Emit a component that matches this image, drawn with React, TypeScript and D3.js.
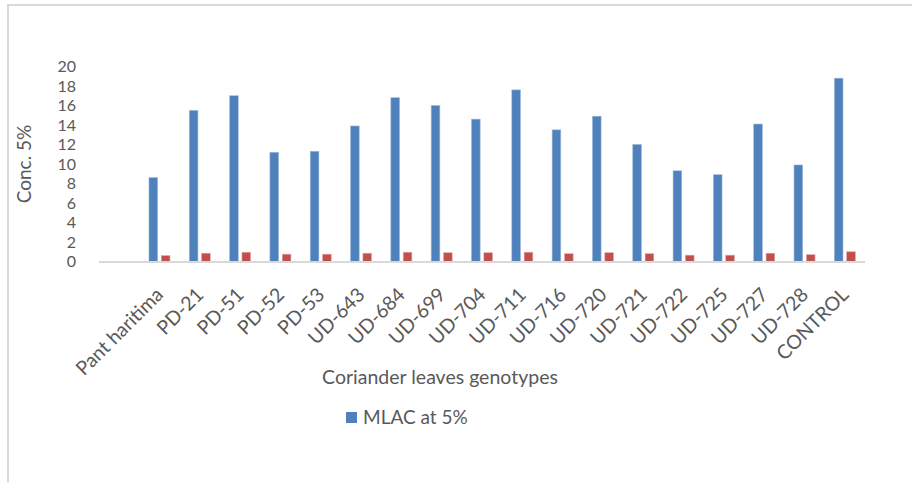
import React from 'react'
import * as d3 from 'd3'

// genotypes (the first slot of the axis is left empty in the original)
const categories = ['Pant haritima', 'PD-21', 'PD-51', 'PD-52', 'PD-53', 'UD-643', 'UD-684', 'UD-699', 'UD-704',
  'UD-711', 'UD-716', 'UD-720', 'UD-721', 'UD-722', 'UD-725', 'UD-727', 'UD-728', 'CONTROL']
const mlac5 = [8.6, 15.5, 17.0, 11.2, 11.3, 13.9, 16.8, 16.0, 14.6, 17.6, 13.5, 14.9, 12.0, 9.3, 8.9, 14.1, 9.9, 18.8]
const second = [0.6, 0.85, 0.95, 0.75, 0.75, 0.85, 0.95, 0.9, 0.9, 0.95, 0.8, 0.9, 0.8, 0.65, 0.65, 0.85, 0.7, 1.0]
const seriesNames = ['MLAC at 5%', '']
const yTicks = [0, 2, 4, 6, 8, 10, 12, 14, 16, 18, 20]

const W = 912, H = 482
const FONT = 'Lato, "Open Sans", sans-serif'
const TXT = '#595959'
const colors = ['#4f81bd', '#c0504d']

export default function App() {
  const x = d3.scaleBand<string>().domain(['', ...categories]).range([99, 865]).padding(0)
  const inner = d3.scaleBand<string>().domain(['a', 'b']).range([-10.5, 10.5]).paddingInner(0.3)
  const y = d3.scaleLinear().domain([0, 20]).range([261.5, 66.5])
  const series = [mlac5, second]

  return (
    <svg width={W} height={H} style={{ position: 'absolute', left: 0, top: 0 }} fontFamily={FONT}>
      <rect x={0} y={0} width={W} height={H} fill="#fff" />
      <rect x={8} y={5} width={1200} height={1000} fill="none" stroke="#d9d9d9" strokeWidth={2} />

      {/* y tick labels */}
      {yTicks.map(t => (
        <text key={t} x={76} y={y(t)} dy="0.36em" textAnchor="end" fontSize={16} fill={TXT}>{t}</text>
      ))}
      <text transform={`translate(31,164) rotate(-90)`} textAnchor="middle" fontSize={19} fill={TXT}>Conc. 5%</text>

      {/* bars */}
      {series.map((vals, s) => (
        <g key={s}>
          {categories.map((c, i) => {
            const cx = (x(c) as number) + x.bandwidth() / 2
            const bx = cx + (inner(s === 0 ? 'a' : 'b') as number)
            return (
              <rect key={c} x={bx} y={y(vals[i])} width={inner.bandwidth()} height={y(0) - y(vals[i])}
                fill={colors[s]} stroke={s === 0 ? '#9cb8da' : '#e0a6a4'} strokeWidth={0.6} />
            )
          })}
        </g>
      ))}

      {/* x axis line */}
      <line x1={99} x2={865} y1={262} y2={262} stroke="#d9d9d9" strokeWidth={1.8} />

      {/* category labels */}
      {categories.map(c => {
        const cx = (x(c) as number) + x.bandwidth() / 2
        return (
          <text key={c} transform={`translate(${cx + 5},${296}) rotate(-45)`} textAnchor="end" fontSize={19.5} fill={TXT}>{c}</text>
        )
      })}
      <text x={440} y={384} textAnchor="middle" fontSize={19.5} fill={TXT}>Coriander leaves genotypes</text>

      {/* legend */}
      <rect x={346} y={412} width={11} height={11} fill={colors[0]} />
      <text x={363} y={424} fontSize={19} fill={TXT}>{seriesNames[0]}</text>
    </svg>
  )
}
